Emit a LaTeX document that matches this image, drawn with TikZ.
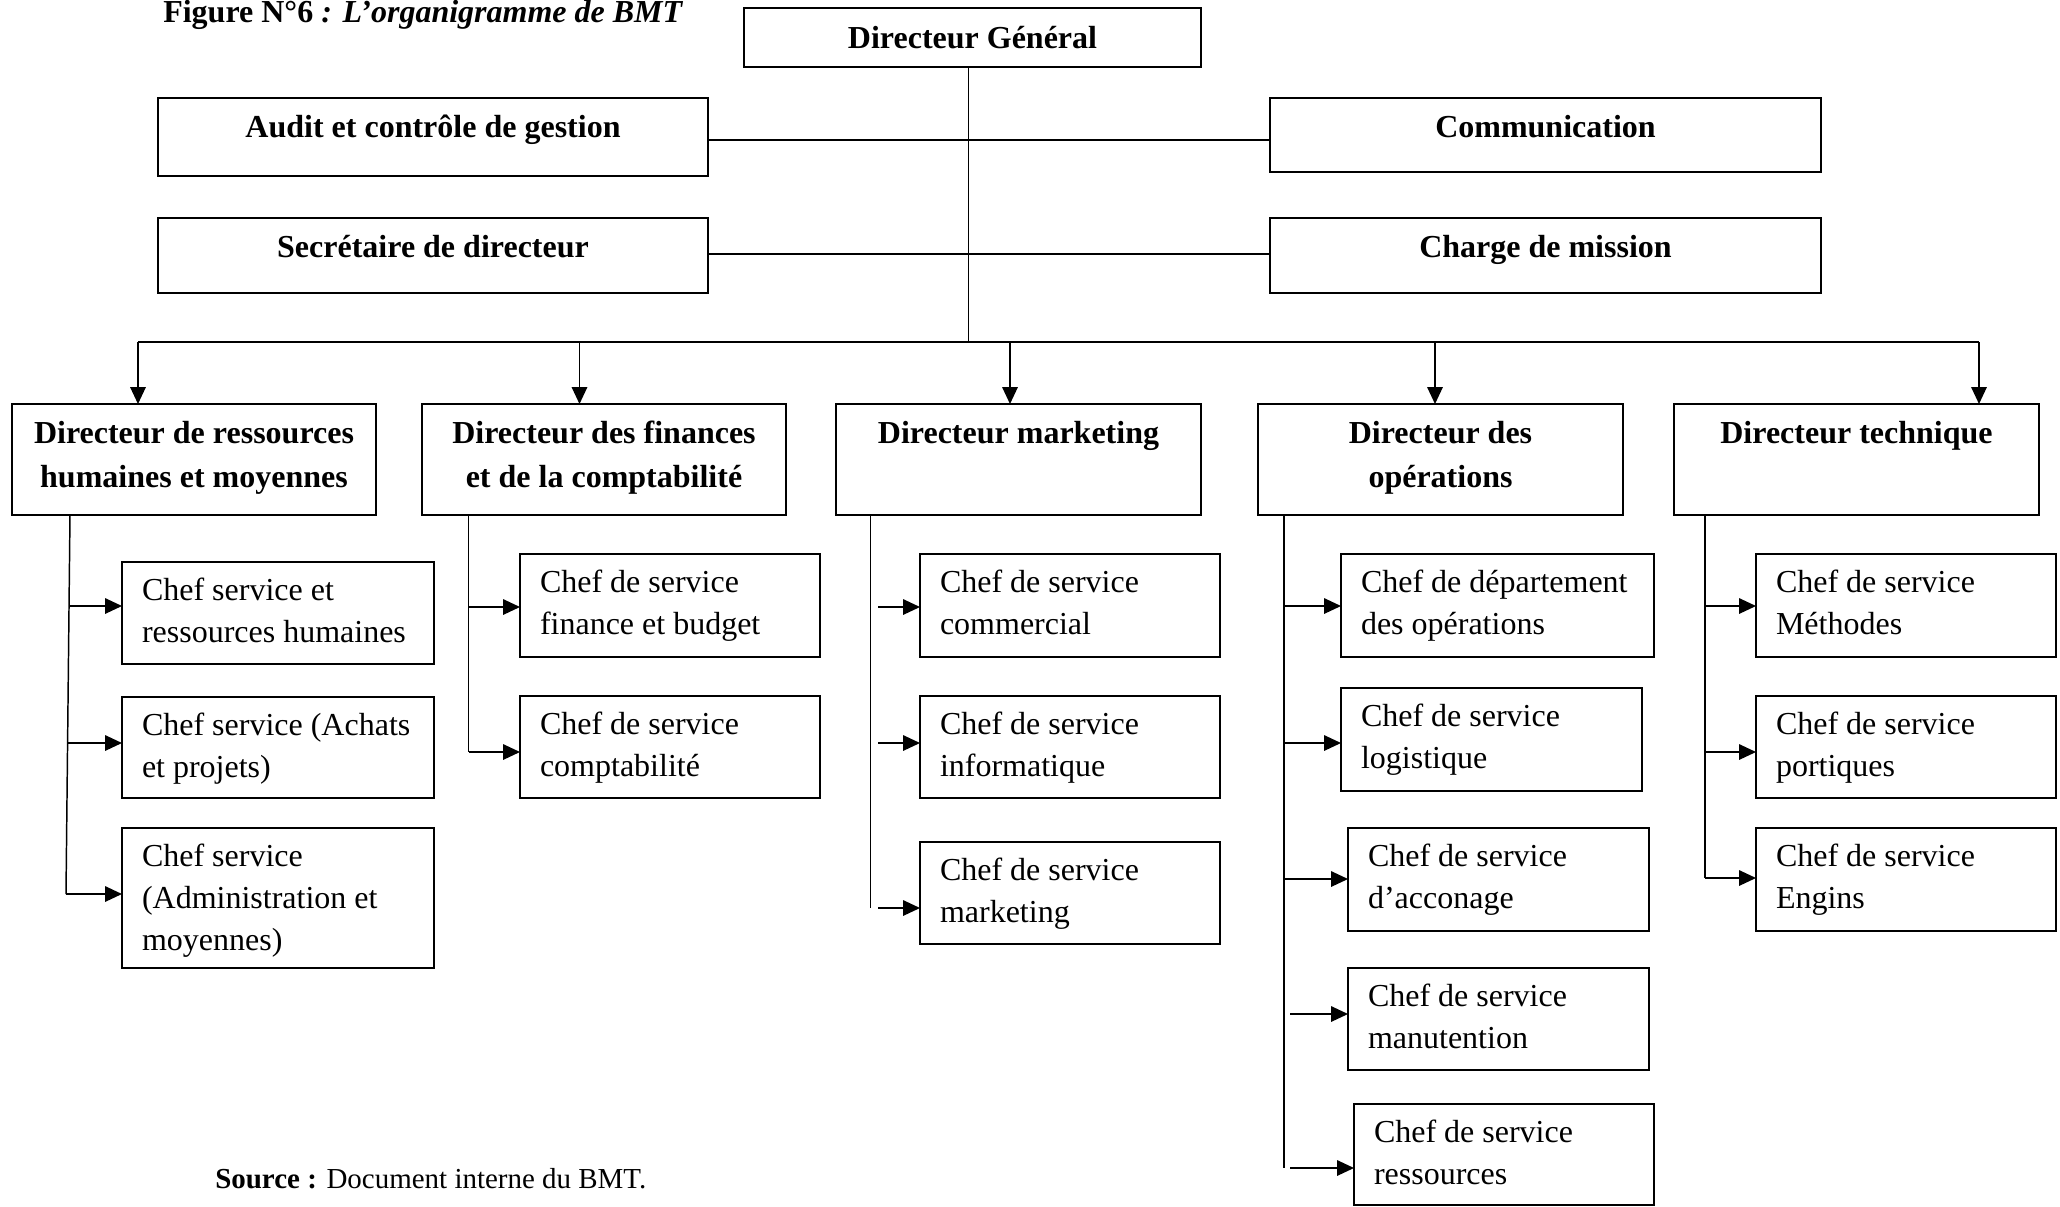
\documentclass[tikz,border=0pt]{standalone}
\usepackage{fontspec}
\setmainfont{Liberation Serif}
\usetikzlibrary{arrows.meta}

% one unit of the drawing grid
\newlength\upx
\setlength\upx{0.025cm}

% text of a service box: left aligned, first baseline 38 units below the top
\newcommand\cheftext[3]{\parbox[t][#2\upx][t]{#1\upx}{\raggedright\leftskip=20\upx\relax\rule{0pt}{38\upx}#3}}
% text of a management box: bold, centred, first baseline near the top
\newcommand\dirtext[4]{\parbox[t][#2\upx][t]{#1\upx}{\centering\bfseries\rule{0pt}{#3\upx}#4}}

\tikzset{
  box/.style={draw, line width=1.4pt, inner sep=0pt, outer sep=0pt, anchor=north west},
  chef/.style={box, font=\fontsize{22.76pt}{29.88pt}\selectfont},
  dir/.style={box, font=\fontsize{22.76pt}{31.30pt}\selectfont},
  conn/.style={line width=1.05pt},
  arr/.style={conn, -{Triangle[length=12pt,width=11pt]}},
}

\begin{document}
\begin{tikzpicture}[x=0.025cm, y=-0.025cm]
\useasboundingbox (0,0) rectangle (2060,1206);
\fill[white] (0,0) rectangle (2060,1206);
\clip (0,0) rectangle (2060,1206);

% caption and source
\node[anchor=base west, inner sep=0, font=\fontsize{22.76pt}{28pt}\selectfont\bfseries] (title) at (163,22)
  {Figure N°6 \textit{: L’organigramme de BMT}};
\node[anchor=base west, inner sep=0, font=\fontsize{20.6pt}{26pt}\selectfont] (src) at (215,1188)
  {\textbf{Source :} Document interne du BMT.};

% general management
\node[dir] (dg) at (744,8) {\dirtext{457}{59}{40}{Directeur Général}};
\node[dir] (audit) at (158,98) {\dirtext{550}{78}{39}{Audit et contrôle de gestion}};
\node[dir] (comm) at (1270,98) {\dirtext{551}{74}{39}{Communication}};
\node[dir] (secr) at (158,218) {\dirtext{550}{75}{39}{Secrétaire de directeur}};
\node[dir] (charge) at (1270,218) {\dirtext{551}{75}{39}{Charge de mission}};

% directors
\node[dir] (dhr) at (12,404) {\dirtext{364}{111}{39}{Directeur de ressources\\humaines et moyennes}};
\node[dir] (dfin) at (422,404) {\dirtext{364}{111}{39}{Directeur des finances\\et de la comptabilité}};
\node[dir] (dmkt) at (836,404) {\dirtext{365}{111}{39}{Directeur marketing}};
\node[dir] (dops) at (1258,404) {\dirtext{365}{111}{39}{Directeur des\\opérations}};
\node[dir] (dtech) at (1674,404) {\dirtext{365}{111}{39}{Directeur technique}};

% human resources services
\node[chef] (hr1) at (122,562) {\cheftext{312}{102}{Chef service et\\ressources humaines}};
\node[chef] (hr2) at (122,697) {\cheftext{312}{101}{Chef service (Achats\\et projets)}};
\node[chef] (hr3) at (122,828) {\cheftext{312}{140}{Chef service\\(Administration et\\moyennes)}};

% finance services
\node[chef] (fin1) at (520,554) {\cheftext{300}{103}{Chef de service\\finance et budget}};
\node[chef] (fin2) at (520,696) {\cheftext{300}{102}{Chef de service\\comptabilité}};

% marketing services
\node[chef] (mkt1) at (920,554) {\cheftext{300}{103}{Chef de service\\commercial}};
\node[chef] (mkt2) at (920,696) {\cheftext{300}{102}{Chef de service\\informatique}};
\node[chef] (mkt3) at (920,842) {\cheftext{300}{102}{Chef de service\\marketing}};

% operations services
\node[chef] (ops1) at (1341,554) {\cheftext{313}{103}{Chef de département\\des opérations}};
\node[chef] (ops2) at (1341,688) {\cheftext{301}{103}{Chef de service\\logistique}};
\node[chef] (ops3) at (1348,828) {\cheftext{301}{103}{Chef de service\\d’acconage}};
\node[chef] (ops4) at (1348,968) {\cheftext{301}{102}{Chef de service\\manutention}};
\node[chef] (ops5) at (1354,1104) {\cheftext{300}{101}{Chef de service\\ressources}};

% technical services
\node[chef] (tech1) at (1756,554) {\cheftext{300}{103}{Chef de service\\Méthodes}};
\node[chef] (tech2) at (1756,696) {\cheftext{300}{102}{Chef de service\\portiques}};
\node[chef] (tech3) at (1756,828) {\cheftext{300}{103}{Chef de service\\Engins}};

% links of the general management
\coordinate (hub) at (968.5,342);
\coordinate (ra) at (968.5,140);
\coordinate (rs) at (968.5,254);
\draw[conn] (dg.south -| hub) -- (hub);
\draw[conn] (audit.east |- ra) -- (comm.west |- ra);
\draw[conn] (secr.east |- rs) -- (charge.west |- rs);

% bus down to the directors
\coordinate (bHR) at (138,342);
\coordinate (bFin) at (579.5,342);
\coordinate (bMkt) at (1010,342);
\coordinate (bOps) at (1435,342);
\coordinate (bTech) at (1979,342);
\draw[conn] (bHR) -- (bTech);
\foreach \b/\n in {bHR/dhr, bFin/dfin, bMkt/dmkt, bOps/dops, bTech/dtech}
  \draw[arr] (\b) -- (\b |- \n.north);

% human resources branch
\coordinate (tHR) at (70,515);
\coordinate (jHR1) at (69.3,606);
\coordinate (jHR2) at (67.7,743);
\coordinate (jHR3) at (66,894);
\draw[conn] (tHR) -- (jHR3);
\draw[arr] (jHR1) -- (jHR1 -| hr1.west);
\draw[arr] (jHR2) -- (jHR2 -| hr2.west);
\draw[arr] (jHR3) -- (jHR3 -| hr3.west);

% finance branch
\coordinate (jFin1) at (468.5,607);
\coordinate (jFin2) at (468.5,752);
\draw[conn] (dfin.south -| jFin1) -- (jFin2);
\draw[arr] (jFin1) -- (jFin1 -| fin1.west);
\draw[arr] (jFin2) -- (jFin2 -| fin2.west);

% marketing branch
\coordinate (tMkt) at (870.5,908);
\coordinate (jMkt1) at (878,607);
\coordinate (jMkt2) at (878,743);
\coordinate (jMkt3) at (878,908);
\draw[conn] (dmkt.south -| tMkt) -- (tMkt);
\draw[arr] (jMkt1) -- (jMkt1 -| mkt1.west);
\draw[arr] (jMkt2) -- (jMkt2 -| mkt2.west);
\draw[arr] (jMkt3) -- (jMkt3 -| mkt3.west);

% operations branch
\coordinate (tOps) at (1284,1168);
\coordinate (jOps1) at (1284,606);
\coordinate (jOps2) at (1284,743);
\coordinate (jOps3) at (1284,879);
\coordinate (jOps4) at (1290,1014);
\coordinate (jOps5) at (1290,1168);
\draw[conn] (dops.south -| tOps) -- (tOps);
\draw[arr] (jOps1) -- (jOps1 -| ops1.west);
\draw[arr] (jOps2) -- (jOps2 -| ops2.west);
\draw[arr] (jOps3) -- (jOps3 -| ops3.west);
\draw[arr] (jOps4) -- (jOps4 -| ops4.west);
\draw[arr] (jOps5) -- (jOps5 -| ops5.west);

% technical branch
\coordinate (jTech1) at (1705,606);
\coordinate (jTech2) at (1705,752);
\coordinate (jTech3) at (1705,878);
\draw[conn] (dtech.south -| jTech1) -- (jTech3);
\draw[arr] (jTech1) -- (jTech1 -| tech1.west);
\draw[arr] (jTech2) -- (jTech2 -| tech2.west);
\draw[arr] (jTech3) -- (jTech3 -| tech3.west);
\end{tikzpicture}
\end{document}
